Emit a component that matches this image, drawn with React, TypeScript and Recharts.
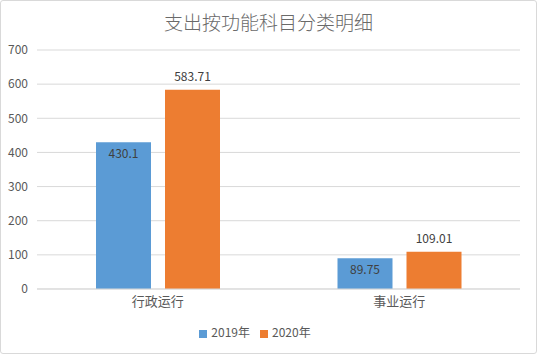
import { BarChart, Bar, XAxis, YAxis, CartesianGrid, Legend, LabelList } from "recharts";

const TITLE = "支出按功能科目分类明细";
const categories = ["行政运行", "事业运行"];
const values2019 = [430.1, 89.75];
const values2020 = [583.71, 109.01];
const yTicks = [0, 100, 200, 300, 400, 500, 600, 700];

const FONT = "'Noto Sans CJK SC', 'Noto Sans', sans-serif";
const TEXT = "#595959";

const data = categories.map((name, i) => ({
  name,
  y2019: values2019[i],
  y2020: values2020[i],
}));

export default function App() {
  return (
    <div
      style={{
        position: "absolute",
        left: 0,
        top: 0,
        width: 537,
        height: 354,
        background: "#fff",
        fontFamily: FONT,
      }}
    >
      <div
        style={{
          position: "absolute",
          left: 0,
          top: 0,
          width: 537,
          height: 354,
          boxSizing: "border-box",
          border: "1px solid #d9d9d9",
          borderRadius: 3,
          pointerEvents: "none",
        }}
      />
      <div
        style={{
          position: "absolute",
          left: 0,
          top: 10,
          width: 537,
          textAlign: "center",
          fontSize: 19,
          fontWeight: 300,
          color: "#6a6a6a",
          lineHeight: "24px",
        }}
      >
        {TITLE}
      </div>
      <BarChart
        width={537}
        height={354}
        data={data}
        margin={{ top: 50, right: 17, left: 0, bottom: 15 }}
        barSize={55}
        barGap={14}
      >
        <CartesianGrid vertical={false} stroke="#d9d9d9" />
        <XAxis
          dataKey="name"
          tickLine={false}
          axisLine={{ stroke: "#d9d9d9" }}
          tick={{ fill: TEXT, fontSize: 13, fontFamily: FONT }}
          height={30}
        />
        <YAxis
          width={37}
          domain={[0, 700]}
          ticks={yTicks}
          axisLine={false}
          tickLine={false}
          tickMargin={3}
          tick={{ fill: TEXT, fontSize: 12, fontFamily: FONT }}
        />
        <Legend
          verticalAlign="bottom"
          height={20}
          iconType="square"
          iconSize={8}
          wrapperStyle={{ bottom: 11, fontSize: 12, fontFamily: FONT }}
          formatter={(value) => <span style={{ color: TEXT }}>{value}</span>}
        />
        <Bar dataKey="y2019" name="2019年" fill="#5B9BD5" isAnimationActive={false}>
          <LabelList
            dataKey="y2019"
            position="insideTop"
            offset={7}
            fill="#404040"
            fontSize={12}
            fontFamily={FONT}
          />
        </Bar>
        <Bar dataKey="y2020" name="2020年" fill="#ED7D31" isAnimationActive={false}>
          <LabelList
            dataKey="y2020"
            position="top"
            offset={9}
            fill="#404040"
            fontSize={12}
            fontFamily={FONT}
          />
        </Bar>
      </BarChart>
    </div>
  );
}
